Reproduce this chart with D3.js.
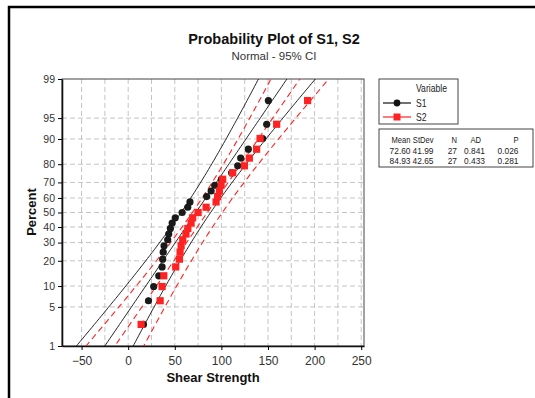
<!DOCTYPE html>
<html lang="en">
<head>
<meta charset="UTF-8">
<title>Probability Plot of S1, S2</title>
<script src="https://cdn.jsdelivr.net/npm/d3@7/dist/d3.min.js"></script>
<style>
  body { margin: 0; background: #fff; }
  svg { display: block; font-family: "Liberation Sans", Arial, sans-serif; }
  .grid line { stroke: #c4c4c4; stroke-dasharray: 5,3; }
  .tick text { fill: #333; }
</style>
</head>
<body>
<svg id="chart" width="535" height="398"></svg>
<script>
// values
const seriesNames = ['S1', 'S2'];
const s1 = [16.4, 21.8, 27.4, 32.8, 36.4, 37.0, 37.6, 38.5, 42.4, 43.5, 45.3, 47.2, 50.5, 57.9,
  63.9, 66.3, 84.2, 89.0, 92.8, 100.0, 111.0, 117.5, 120.7, 128.9, 144.3, 148.6, 150.4];
const s2 = [13.9, 34.3, 36.4, 38.2, 51.0, 55.0, 55.7, 56.8, 58.5, 62.0, 64.0, 67.5, 69.2, 75.0,
  83.6, 94.3, 96.0, 97.9, 99.7, 101.4, 112.1, 124.7, 130.0, 137.8, 141.5, 159.3, 192.5];
const means = [72.60, 84.93];
const stdevs = [41.99, 42.65];
const counts = [27, 27];
const adStats = ['0.841', '0.433'];
const pValues = ['0.026', '0.281'];
const tableHeads = ['Mean', 'StDev', 'N', 'AD', 'P'];
const percentTicks = [1, 5, 10, 20, 30, 40, 50, 60, 70, 80, 90, 95, 99];
const xTicks = [-50, 0, 50, 100, 150, 200, 250];
const xGrid = [-50, -25, 0, 25, 50, 75, 100, 125, 150, 175, 200, 225, 250];

// inverse normal cdf (Acklam)
function qnorm(p) {
  const a = [-39.69683028665376, 220.9460984245205, -275.9285104469687, 138.3577518672690, -30.66479806614716, 2.506628277459239];
  const b = [-54.47609879822406, 161.5858368580409, -155.6989798598866, 66.80131188771972, -13.28068155288572];
  const c = [-0.007784894002430293, -0.3223964580411365, -2.400758277161838, -2.549732539343734, 4.374664141464968, 2.938163982698783];
  const d = [0.007784695709041462, 0.3224671290700398, 2.445134137142996, 3.754408661907416];
  const pl = 0.02425;
  let q, r;
  if (p < pl) {
    q = Math.sqrt(-2 * Math.log(p));
    return (((((c[0]*q+c[1])*q+c[2])*q+c[3])*q+c[4])*q+c[5]) / ((((d[0]*q+d[1])*q+d[2])*q+d[3])*q+1);
  }
  if (p > 1 - pl) {
    q = Math.sqrt(-2 * Math.log(1 - p));
    return -(((((c[0]*q+c[1])*q+c[2])*q+c[3])*q+c[4])*q+c[5]) / ((((d[0]*q+d[1])*q+d[2])*q+d[3])*q+1);
  }
  q = p - 0.5; r = q * q;
  return (((((a[0]*r+a[1])*r+a[2])*r+a[3])*r+a[4])*r+a[5])*q / (((((b[0]*r+b[1])*r+b[2])*r+b[3])*r+b[4])*r+1);
}

const svg = d3.select('#chart');
const L = 62, R = 364, T = 79, B = 346;

const x = d3.scaleLinear().domain([-71, 253]).range([L, R]);
const zTop = qnorm(0.99);
const y = d3.scaleLinear().domain([-zTop, zTop]).range([B, T]);

// outer frame (only top and left edges fall inside the picture)
svg.append('rect').attr('x', 9).attr('y', 7).attr('width', 560).attr('height', 420)
  .attr('fill', 'none').attr('stroke', '#000').attr('stroke-width', 2.5);

// titles
svg.append('text').attr('x', 274).attr('y', 44).attr('text-anchor', 'middle')
  .attr('font-size', 14.5).attr('font-weight', 'bold').attr('fill', '#111').text('Probability Plot of S1, S2');
svg.append('text').attr('x', 274).attr('y', 60).attr('text-anchor', 'middle')
  .attr('font-size', 11.5).attr('fill', '#333').text('Normal - 95% CI');

// grid
const grid = svg.append('g').attr('class', 'grid');
grid.selectAll('.gx').data(xGrid).enter().append('line')
  .attr('x1', d => x(d)).attr('x2', d => x(d)).attr('y1', T).attr('y2', B);
grid.selectAll('.gy').data(percentTicks.slice(1, -1)).enter().append('line')
  .attr('x1', L).attr('x2', R).attr('y1', d => y(qnorm(d / 100))).attr('y2', d => y(qnorm(d / 100)));

svg.append('rect').attr('x', L).attr('y', T).attr('width', R - L).attr('height', B - T)
  .attr('fill', 'none').attr('stroke', '#444').attr('stroke-width', 1);

// axes
const xAxis = svg.append('g').attr('transform', `translate(0,${B})`)
  .call(d3.axisBottom(x).tickValues(xTicks).tickSize(4).tickSizeOuter(0));
xAxis.select('.domain').attr('stroke', '#111').attr('stroke-width', 1.6);
xAxis.selectAll('text').attr('font-size', 12).attr('dy', '1em');

const yAxis = svg.append('g').attr('transform', `translate(${L},0)`)
  .call(d3.axisLeft(y).tickValues(percentTicks.map(p => qnorm(p / 100)))
    .tickFormat((d, i) => percentTicks[i]).tickSize(4).tickSizeOuter(0));
yAxis.select('.domain').attr('stroke', '#111').attr('stroke-width', 1.6);
yAxis.selectAll('text').attr('font-size', 10.5);

svg.append('text').attr('x', 213).attr('y', 382).attr('text-anchor', 'middle')
  .attr('font-size', 13).attr('font-weight', 'bold').attr('fill', '#111').text('Shear Strength');
svg.append('text').attr('transform', 'translate(36,212) rotate(-90)').attr('text-anchor', 'middle')
  .attr('font-size', 13).attr('font-weight', 'bold').attr('fill', '#111').text('Percent');

// fitted lines and confidence bands
svg.append('clipPath').attr('id', 'clip').append('rect')
  .attr('x', L).attr('y', T).attr('width', R - L).attr('height', B - T);
const plot = svg.append('g').attr('clip-path', 'url(#clip)');

const colors = ['#111', '#f22'];
const zs = d3.range(-3, 3.001, 0.05);
const line = d3.line().x(d => x(d[0])).y(d => y(d[1]));

[0, 1].forEach(k => {
  const mu = means[k], s = stdevs[k], n = counts[k];
  const band = sign => zs.map(z => [mu + z * s + sign * 1.96 * s * Math.sqrt(1 / n + z * z / (2 * n)), z]);
  [band(-1), band(0), band(1)].forEach(pts => {
    plot.append('path').attr('d', line(pts)).attr('fill', 'none')
      .attr('stroke', colors[k]).attr('stroke-width', k ? 1.1 : 0.9)
      .attr('stroke-dasharray', k ? '6,4' : null);
  });
});

// points (median-rank plotting positions)
const pos = (i, n) => qnorm((i + 1 - 0.3) / (n + 0.4));
plot.selectAll('.p1').data(s1).enter().append('circle')
  .attr('cx', d => x(d)).attr('cy', (d, i) => y(pos(i, s1.length))).attr('r', 3.6).attr('fill', '#1a1a1a');
plot.selectAll('.p2').data(s2).enter().append('rect')
  .attr('x', d => x(d) - 3.6).attr('y', (d, i) => y(pos(i, s2.length)) - 3.6)
  .attr('width', 7.2).attr('height', 7.2).attr('fill', '#f22');

// legend
const leg = svg.append('g').attr('font-size', 10.5).attr('fill', '#222');
leg.append('rect').attr('x', 379).attr('y', 79).attr('width', 79).attr('height', 45)
  .attr('fill', '#fff').attr('stroke', '#444');
leg.append('text').attr('transform', 'translate(416,92) scale(0.82,1)').text('Variable');
seriesNames.forEach((name, k) => {
  const ly = 103 + k * 14;
  leg.append('line').attr('x1', 383).attr('x2', 411).attr('y1', ly).attr('y2', ly)
    .attr('stroke', colors[k]).attr('stroke-width', 1.2);
  if (k === 0) leg.append('circle').attr('cx', 397).attr('cy', ly).attr('r', 3.4).attr('fill', colors[k]);
  else leg.append('rect').attr('x', 393.5).attr('y', ly - 3.5).attr('width', 7).attr('height', 7).attr('fill', colors[k]);
  leg.append('text').attr('transform', `translate(416,${ly + 4}) scale(0.82,1)`).text(name);
});

// statistics table (text squeezed horizontally like the narrow original font)
const tab = svg.append('g').attr('font-size', 9.5).attr('fill', '#222').attr('text-anchor', 'end');
tab.append('rect').attr('x', 379).attr('y', 129).attr('width', 154).attr('height', 38)
  .attr('fill', '#fff').attr('stroke', '#444');
const colX = [410.5, 433.5, 457, 485, 518.5];
const cell = (v, cx, cy, sx) => tab.append('text').attr('transform', `translate(${cx},${cy}) scale(${sx},1)`).text(v);
tableHeads.forEach((h, j) => cell(h, colX[j] - (j === 3 ? 4 : 0), 143, 0.8));
[0, 1].forEach(k => {
  const row = [means[k].toFixed(2), stdevs[k].toFixed(2), counts[k], adStats[k], pValues[k]];
  row.forEach((v, j) => cell(v, colX[j], 154 + k * 9.8, 0.88));
});
</script>
</body>
</html>
